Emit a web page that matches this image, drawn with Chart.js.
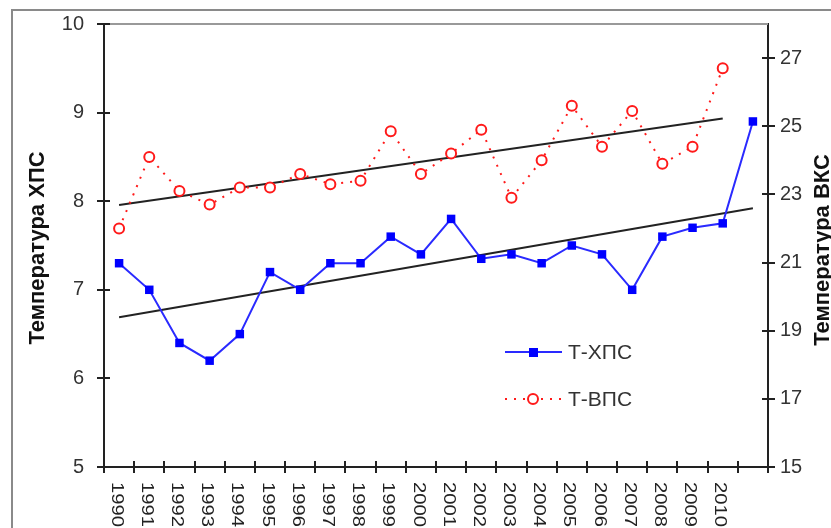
<!DOCTYPE html>
<html lang="ru">
<head>
<meta charset="UTF-8">
<title>Температура ХПС и ВПС</title>
<script src="https://cdn.jsdelivr.net/npm/chart.js"></script>
<style>
    body { margin: 0; background: #fff; }
    .wrap { position: relative; width: 831px; height: 528px; }
    .frame { position: absolute; left: 11px; top: 9px; right: -4px; bottom: -4px; border-top: 2px solid #8a8a8a; border-left: 2px solid #8a8a8a; pointer-events: none; }
    canvas { position: absolute; left: 0; top: 0; }
</style>
</head>
<body>
<div class="wrap">
    <canvas id="chart" width="831" height="528"></canvas>
    <div class="frame"></div>
</div>
<script>
    // годы (последняя категория без подписи)
    const years = ['1990','1991','1992','1993','1994','1995','1996','1997','1998','1999','2000',
                   '2001','2002','2003','2004','2005','2006','2007','2008','2009','2010',''];

    // Т-ХПС, левая ось
    const tXps = [7.3, 7.0, 6.4, 6.2, 6.5, 7.2, 7.0, 7.3, 7.3, 7.6, 7.4,
                  7.8, 7.35, 7.4, 7.3, 7.5, 7.4, 7.0, 7.6, 7.7, 7.75, 8.9];

    // Т-ВПС, правая ось
    const tVps = [22.0, 24.1, 23.1, 22.7, 23.2, 23.2, 23.6, 23.3, 23.4, 24.85, 23.6,
                  24.2, 24.9, 22.9, 24.0, 25.6, 24.4, 25.45, 23.9, 24.4, 26.7, null];

    // линии тренда (концы)
    const trendXps = [6.69, null, null, null, null, null, null, null, null, null, null,
                      null, null, null, null, null, null, null, null, null, null, 7.92];
    const trendVps = [22.69, null, null, null, null, null, null, null, null, null, null,
                      null, null, null, null, null, null, null, null, null, 25.23, null];

    const leftTicks = [5, 6, 7, 8, 9, 10];
    const rightTicks = [15, 17, 19, 21, 23, 25, 27];

    const leftTitle = 'Температура ХПС';
    const rightTitle = 'Температура ВКС';
    const legendNames = ['Т-ХПС', 'Т-ВПС'];

    const FONT = "'Liberation Sans', Arial, sans-serif";
    const BLUE = '#2a2aff';
    const RED = '#ff1a1a';

    // подписи, засечки, заголовки осей и легенда
    const decor = {
        id: 'decor',
        afterDraw(chart) {
            const ctx = chart.ctx;
            const a = chart.chartArea;
            const x = chart.scales.x, y = chart.scales.y, y1 = chart.scales.y1;
            ctx.save();

            // верхняя граница области построения
            ctx.strokeStyle = '#999';
            ctx.lineWidth = 2;
            ctx.beginPath();
            ctx.moveTo(a.left - 6, a.top);
            ctx.lineTo(a.right, a.top);
            ctx.stroke();

            // засечки поперёк осей
            ctx.strokeStyle = '#222';
            ctx.lineWidth = 2;
            ctx.beginPath();
            leftTicks.forEach(v => {
                const py = Math.round(y.getPixelForValue(v));
                ctx.moveTo(a.left - 7, py); ctx.lineTo(a.left + 6, py);
            });
            rightTicks.forEach(v => {
                const py = Math.round(y1.getPixelForValue(v));
                ctx.moveTo(a.right - 6, py); ctx.lineTo(a.right + 7, py);
            });
            for (let i = 0; i <= years.length; i++) {
                const px = Math.round(x.getPixelForValue(i - 0.5));
                ctx.moveTo(px, a.bottom - 6); ctx.lineTo(px, a.bottom + 6);
            }
            ctx.stroke();

            // подписи годов, повернутые по часовой стрелке
            ctx.fillStyle = '#222';
            ctx.font = '15px ' + FONT;
            ctx.textAlign = 'left';
            ctx.textBaseline = 'middle';
            years.forEach((lab, i) => {
                if (!lab) return;
                const px = x.getPixelForValue(i) - 3;
                ctx.save();
                ctx.translate(px, a.bottom + 15);
                ctx.rotate(Math.PI / 2);
                ctx.scale(1.35, 1.05);
                ctx.fillText(lab, 0, 0);
                ctx.restore();
            });

            // заголовки осей
            ctx.fillStyle = '#111';
            ctx.font = 'bold 22px ' + FONT;
            ctx.textAlign = 'center';
            ctx.textBaseline = 'alphabetic';
            ctx.save();
            ctx.translate(44, 248);
            ctx.rotate(-Math.PI / 2);
            ctx.fillText(leftTitle, 0, 0);
            ctx.restore();
            ctx.save();
            ctx.translate(829, 250);
            ctx.rotate(-Math.PI / 2);
            ctx.fillText(rightTitle, 0, 0);
            ctx.restore();

            // легенда внутри области
            const lx = a.left + 401, ly = [352, 399];
            ctx.lineWidth = 2;
            ctx.strokeStyle = BLUE;
            ctx.beginPath(); ctx.moveTo(lx, ly[0]); ctx.lineTo(lx + 57, ly[0]); ctx.stroke();
            ctx.fillStyle = '#0000ff';
            ctx.fillRect(lx + 24, ly[0] - 4, 9, 9);

            ctx.strokeStyle = RED;
            ctx.setLineDash([2, 7]);
            ctx.beginPath(); ctx.moveTo(lx, ly[1]); ctx.lineTo(lx + 57, ly[1]); ctx.stroke();
            ctx.setLineDash([]);
            ctx.fillStyle = '#fff';
            ctx.beginPath(); ctx.arc(lx + 28, ly[1], 5, 0, Math.PI * 2); ctx.fill(); ctx.stroke();

            ctx.fillStyle = '#333';
            ctx.font = '21px ' + FONT;
            ctx.textAlign = 'left';
            ctx.textBaseline = 'middle';
            ctx.fillText(legendNames[0], lx + 63, ly[0] + 1);
            ctx.fillText(legendNames[1], lx + 63, ly[1] + 1);

            ctx.restore();
        }
    };

    new Chart(document.getElementById('chart'), {
        type: 'line',
        data: {
            labels: years,
            datasets: [
                {
                    label: legendNames[0],
                    data: tXps,
                    yAxisID: 'y',
                    borderColor: BLUE,
                    borderWidth: 2,
                    pointStyle: 'rect',
                    pointRadius: 6,
                    pointBackgroundColor: '#0000ff',
                    pointBorderColor: '#0000ff',
                    pointBorderWidth: 0,
                    tension: 0
                },
                {
                    label: legendNames[1],
                    data: tVps,
                    yAxisID: 'y1',
                    borderColor: RED,
                    borderWidth: 2,
                    borderDash: [2, 7],
                    pointStyle: 'circle',
                    pointRadius: 5,
                    pointBackgroundColor: '#fff',
                    pointBorderColor: RED,
                    pointBorderWidth: 2,
                    tension: 0
                },
                {
                    label: 'тренд ХПС',
                    data: trendXps,
                    yAxisID: 'y',
                    borderColor: '#222',
                    borderWidth: 2,
                    pointRadius: 0,
                    spanGaps: true
                },
                {
                    label: 'тренд ВПС',
                    data: trendVps,
                    yAxisID: 'y1',
                    borderColor: '#222',
                    borderWidth: 2,
                    pointRadius: 0,
                    spanGaps: true
                }
            ]
        },
        options: {
            responsive: false,
            animation: false,
            layout: { padding: { top: 24, left: 0, right: 0, bottom: 0 } },
            plugins: {
                legend: { display: false },
                tooltip: { enabled: false }
            },
            scales: {
                x: {
                    offset: true,
                    grid: { display: false },
                    border: { display: true, color: '#222', width: 2 },
                    ticks: { display: false },
                    afterFit: s => { s.height = 61; }
                },
                y: {
                    position: 'left',
                    min: 5,
                    max: 10,
                    afterBuildTicks: s => { s.ticks = leftTicks.map(v => ({ value: v })); },
                    grid: { display: false },
                    border: { display: true, color: '#222', width: 2 },
                    ticks: { color: '#333', padding: 12, font: { family: FONT, size: 20 } },
                    afterFit: s => { s.width = 104; }
                },
                y1: {
                    position: 'right',
                    min: 15,
                    max: 28,
                    afterBuildTicks: s => { s.ticks = rightTicks.map(v => ({ value: v })); },
                    grid: { display: false },
                    border: { display: true, color: '#222', width: 2 },
                    ticks: { color: '#333', padding: 4, font: { family: FONT, size: 20 } },
                    afterFit: s => { s.width = 63; }
                }
            }
        },
        plugins: [decor]
    });
</script>
</body>
</html>
